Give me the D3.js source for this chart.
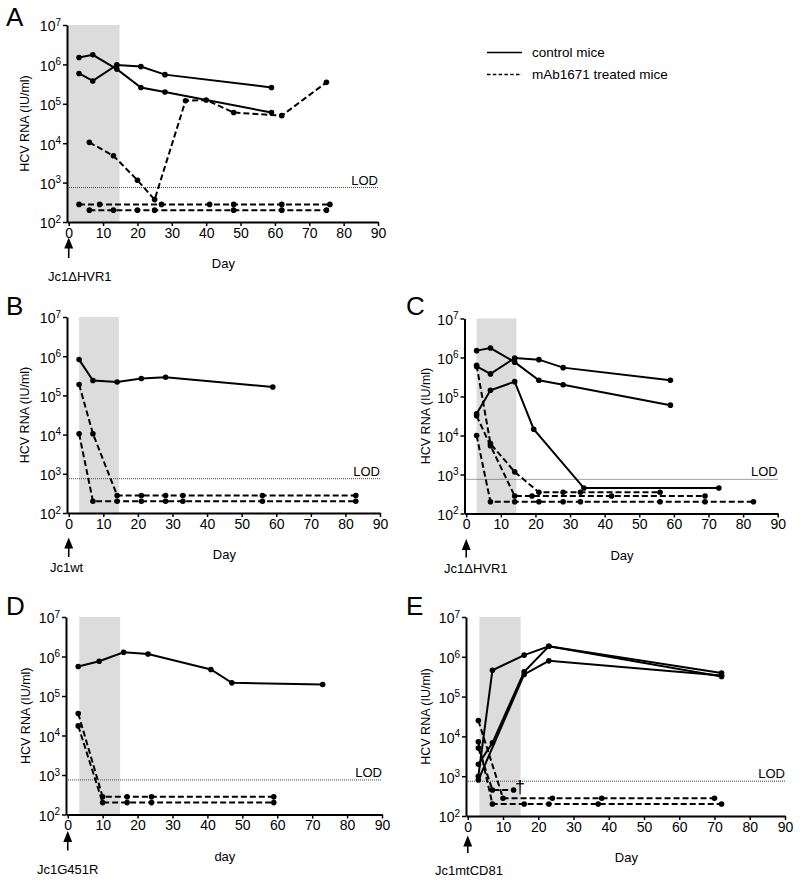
<!DOCTYPE html>
<html>
<head>
<meta charset="utf-8">
<script src="https://cdn.jsdelivr.net/npm/d3@7"></script>
<style>
  html, body { margin: 0; padding: 0; background: #fff; }
  svg { display: block; font-family: "Liberation Sans", Arial, Helvetica, sans-serif; }
</style>
</head>
<body>
<svg id="chart" width="800" height="885"></svg>
<script>
// ---------------- DATA (day, HCV RNA IU/ml) ----------------
const xTicks = [0, 10, 20, 30, 40, 50, 60, 70, 80, 90];
const yTickExponents = [2, 3, 4, 5, 6, 7];
const LOD = 750;

// Panel A (Jc1ΔHVR1)
const A_ctrl1 = [[3,1.5e6],[7,1.75e6],[14,7.6e5],[21,2.6e5],[28,2.0e5],[59,6.0e4]];
const A_ctrl2 = [[3,5.9e5],[7,3.8e5],[14,9.7e5],[21,8.8e5],[28,5.5e5],[59,2.6e5]];
const A_trt1 = [[6,1.05e4],[13,4.8e3],[20,1.15e3],[25,3.7e2],[34,1.2e5],[40,1.25e5],[48,6.0e4],[62,5.0e4],[75,3.5e5]];
const A_trt2 = [[3,2.8e2],[9,2.8e2],[27,2.8e2],[41,2.8e2],[48,2.8e2],[62,2.8e2],[76,2.8e2]];
const A_trt3 = [[6,2e2],[13,2e2],[20,2e2],[25,2e2],[48,2e2],[62,2e2],[75,2e2]];

// Panel B (Jc1wt)
const B_ctrl1 = [[3,8.2e5],[7,2.4e5],[14,2.2e5],[21,2.7e5],[28,2.9e5],[59,1.64e5]];
const B_trt1 = [[3,1.9e5],[7,1.05e4],[14,2.8e2],[21,2.8e2],[28,2.8e2],[33,2.8e2],[56,2.8e2],[83,2.8e2]];
const B_trt2 = [[3,1.05e4],[7,2e2],[14,2e2],[21,2e2],[28,2e2],[33,2e2],[56,2e2],[83,2e2]];

// Panel C (Jc1ΔHVR1)
const C_ctrl1 = [[3,1.5e6],[7,1.75e6],[14,7.6e5],[21,2.6e5],[28,2.0e5],[59,6.0e4]];
const C_ctrl2 = [[3,5.9e5],[7,3.8e5],[14,9.7e5],[21,8.8e5],[28,5.5e5],[59,2.6e5]];
const C_ctrl3 = [[3,3.6e4],[7,1.45e5],[14,2.4e5],[19.5,1.45e4],[34,4.5e2],[73,4.5e2]];
const C_trt1 = [[3,6.3e5],[7,6.2e3],[14,1.17e3],[21,3.5e2],[28,3.5e2],[33,3.5e2],[56,3.5e2]];
const C_trt2 = [[3,3.2e4],[7,5.5e3],[14,2.8e2],[19,2.8e2],[42,2.8e2],[69,2.8e2]];
const C_trt3 = [[3,1.0e4],[7,2e2],[14,2e2],[21,2e2],[28,2e2],[33,2e2],[56,2e2],[69,2e2],[83,2e2]];

// Panel D (Jc1G451R)
const D_ctrl1 = [[3,5.6e5],[9,7.6e5],[16,1.28e6],[23,1.16e6],[41,4.7e5],[47,2.15e5],[73,1.95e5]];
const D_trt1 = [[3,3.6e4],[10,2.8e2],[17,2.8e2],[24,2.8e2],[59,2.8e2]];
const D_trt2 = [[3,1.75e4],[10,2e2],[17,2e2],[24,2e2],[59,2e2]];

// Panel E (Jc1mtCD81)
const E_ctrl1 = [[3,1.0e3],[7,4.6e5],[16,1.1e6],[23,1.84e6],[72,3.9e5]];
const E_ctrl2 = [[3,2.0e3],[7,6.9e3],[16,4.2e5],[23,1.84e6],[72,3.2e5]];
const E_ctrl3 = [[3,8.0e2],[16,3.6e5],[23,7.9e5],[72,3.4e5]];
const E_trt1 = [[3,2.5e4],[10,2.8e2],[24,2.8e2],[38,2.8e2],[70,2.8e2]];
const E_trt2 = [[3,7.3e3],[7,2e2],[16,2e2],[23,2e2],[37,2e2],[72,2e2]];
const E_trt3 = [[3,5.1e3],[7,4.5e2],[13,4.5e2]];
const E_deathMark = [13, 4.5e2];

// Treatment (shaded) windows, days
const A_window = [-0.5, 14.8];
const B_window = [3, 14.5];
const C_window = [3, 14.5];
const D_window = [3.3, 15];
const E_window = [3.3, 15];

// Labels
const legendLabels = ["control mice", "mAb1671 treated mice"];
const virusLabels = { A: "Jc1\u0394HVR1", B: "Jc1wt", C: "Jc1\u0394HVR1", D: "Jc1G451R", E: "Jc1mtCD81" };
const xTitles = { A: "Day", B: "Day", C: "Day", D: "day", E: "Day" };
const yTitle = "HCV RNA (IU/ml)";

// ---------------- LAYOUT ----------------
const panels = [
  { id: "A", left: 67, right: 378, top: 25, bottom: 222, letterX: 6, letterY: 26,
    ctrl: [A_ctrl1, A_ctrl2], trt: [A_trt1, A_trt2, A_trt3], win: A_window,
    arrow: [18, 36], labelX: 48, yTitleX: 25 },
  { id: "B", left: 67, right: 380, top: 317, bottom: 513, letterX: 6, letterY: 315,
    ctrl: [B_ctrl1], trt: [B_trt1, B_trt2], win: B_window,
    arrow: [27, 44], labelX: 50, yTitleX: 25 },
  { id: "C", left: 464.5, right: 777.7, top: 318.5, bottom: 513.5, letterX: 406, letterY: 315,
    ctrl: [C_ctrl1, C_ctrl2, C_ctrl3], trt: [C_trt1, C_trt2, C_trt3], win: C_window,
    arrow: [28, 44], labelX: 444, yTitleX: 426 },
  { id: "D", left: 66, right: 382, top: 617, bottom: 814.5, letterX: 6, letterY: 615,
    ctrl: [D_ctrl1], trt: [D_trt1, D_trt2], win: D_window,
    arrow: [19, 36], labelX: 37, yTitleX: 26 },
  { id: "E", left: 466, right: 785, top: 617, bottom: 816, letterX: 406, letterY: 615,
    ctrl: [E_ctrl1, E_ctrl2, E_ctrl3], trt: [E_trt1, E_trt2, E_trt3], win: E_window,
    arrow: [22, 37], labelX: 435, yTitleX: 426, dagger: E_deathMark }
];

const svg = d3.select("#chart");

// marker for arrows
svg.append("defs").append("marker")
  .attr("id", "arrowhead").attr("viewBox", "0 0 10 10")
  .attr("refX", 5).attr("refY", 5)
  .attr("markerWidth", 7).attr("markerHeight", 7)
  .attr("orient", "auto-start-reverse")
  .append("path").attr("d", "M0,1 L10,5 L0,9 z").attr("fill", "#000");

panels.forEach(p => {
  const x = d3.scaleLinear().domain([-0.5, 90]).range([p.left, p.right]);
  const y = d3.scaleLog().domain([1e2, 1e7]).range([p.bottom, p.top]);
  const g = svg.append("g");

  // shaded window
  g.append("rect")
    .attr("x", x(p.win[0])).attr("y", y(1e7))
    .attr("width", x(p.win[1]) - x(p.win[0]))
    .attr("height", y(1e2) - y(1e7))
    .attr("fill", "#dcdcdc");

  // LOD line
  g.append("line")
    .attr("x1", x(-0.5)).attr("x2", x(90))
    .attr("y1", y(LOD)).attr("y2", y(LOD))
    .attr("stroke", "#444").attr("stroke-width", 1)
    .attr("stroke-dasharray", "1,1");
  g.append("text")
    .attr("x", x(90)).attr("y", y(LOD) - 3)
    .attr("text-anchor", "end").attr("font-size", 13)
    .text("LOD");

  // x axis
  const xAxis = d3.axisBottom(x).tickValues(xTicks).tickSize(4).tickSizeOuter(0).tickPadding(2);
  const gx = g.append("g").attr("transform", `translate(0,${p.bottom})`).call(xAxis);
  gx.select(".domain").attr("stroke-width", 2);
  gx.selectAll(".tick line").attr("stroke-width", 1.5);
  gx.selectAll(".tick text").attr("font-size", 14).attr("font-family", "Liberation Sans, Arial, sans-serif").attr("fill", "#000");

  // y axis
  const yTickVals = yTickExponents.map(e => Math.pow(10, e));
  const yAxis = d3.axisLeft(y).tickValues(yTickVals).tickSize(4).tickSizeOuter(0).tickFormat("");
  const gy = g.append("g").attr("transform", `translate(${p.left},0)`).call(yAxis);
  gy.select(".domain").attr("stroke-width", 2);
  gy.selectAll(".tick line").attr("stroke-width", 1.5);
  gy.selectAll(".tick").each(function(d, i) {
    const t = d3.select(this).append("text")
      .attr("x", -6).attr("dy", "0.42em")
      .attr("text-anchor", "end").attr("fill", "#000")
      .attr("font-size", 14);
    t.append("tspan").text("10");
    t.append("tspan").attr("dy", "-0.55em").attr("font-size", 10).text(yTickExponents[i]);
  });

  // y title
  g.append("text")
    .attr("transform", `translate(${p.yTitleX},${(p.top + p.bottom) / 2}) rotate(-90)`)
    .attr("text-anchor", "middle").attr("dy", "0.35em")
    .attr("font-size", 12.5)
    .text(yTitle);

  // x title
  g.append("text")
    .attr("x", x(45)).attr("y", p.bottom + 46)
    .attr("text-anchor", "middle").attr("font-size", 13)
    .text(xTitles[p.id]);

  // arrow and virus label
  g.append("line")
    .attr("x1", x(0)).attr("x2", x(0))
    .attr("y1", p.bottom + p.arrow[1]).attr("y2", p.bottom + p.arrow[0] + 3)
    .attr("stroke", "#000").attr("stroke-width", 1.6)
    .attr("marker-end", "url(#arrowhead)");
  g.append("text")
    .attr("x", p.labelX).attr("y", p.bottom + 59)
    .attr("font-size", 13)
    .text(virusLabels[p.id]);

  // panel letter
  svg.append("text")
    .attr("x", p.letterX).attr("y", p.letterY)
    .attr("font-size", 26)
    .text(p.id);

  // lines
  const line = d3.line().x(d => x(d[0])).y(d => y(d[1]));
  const drawSeries = (data, dashed) => {
    g.append("path").datum(data)
      .attr("d", line).attr("fill", "none")
      .attr("stroke", "#000").attr("stroke-width", 2)
      .attr("stroke-dasharray", dashed ? "6,3" : null);
    g.selectAll(null).data(data).enter().append("circle")
      .attr("cx", d => x(d[0])).attr("cy", d => y(d[1]))
      .attr("r", 2.8).attr("fill", "#000");
  };
  p.trt.forEach(s => drawSeries(s, true));
  p.ctrl.forEach(s => drawSeries(s, false));

  if (p.dagger) {
    g.append("text")
      .attr("x", x(p.dagger[0]) + 1.5).attr("y", y(p.dagger[1]) + 3)
      .attr("font-size", 18)
      .text("\u2020");
  }
});

// legend
const lg = svg.append("g");
lg.append("line").attr("x1", 487).attr("x2", 522).attr("y1", 52.5).attr("y2", 52.5)
  .attr("stroke", "#000").attr("stroke-width", 1.6);
lg.append("line").attr("x1", 487).attr("x2", 522).attr("y1", 74.5).attr("y2", 74.5)
  .attr("stroke", "#000").attr("stroke-width", 1.6).attr("stroke-dasharray", "3.5,2.3");
lg.append("text").attr("x", 532).attr("y", 57).attr("font-size", 13.5).text(legendLabels[0]);
lg.append("text").attr("x", 532).attr("y", 79).attr("font-size", 13.5).text(legendLabels[1]);
</script>
</body>
</html>
